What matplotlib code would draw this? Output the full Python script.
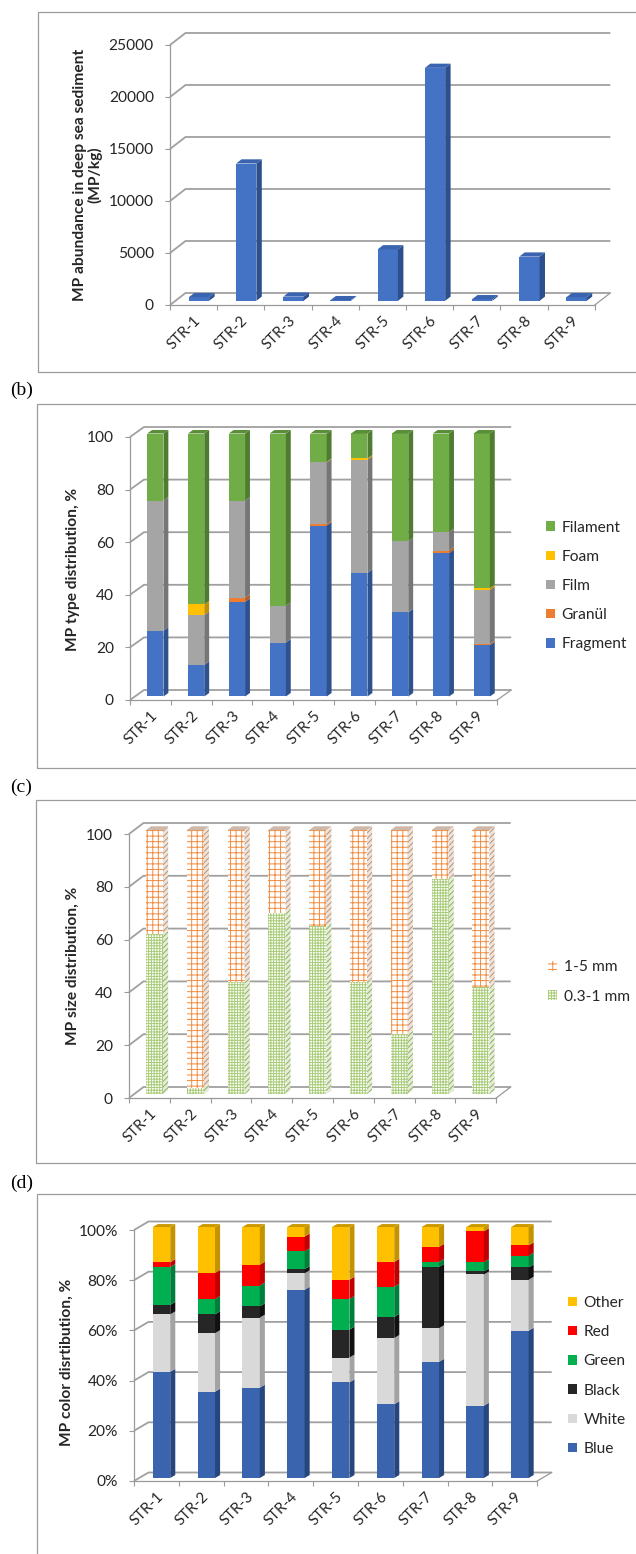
import matplotlib
matplotlib.use("Agg")
import matplotlib.pyplot as plt
from matplotlib.patches import Polygon, Rectangle, Patch
import numpy as np

plt.rcParams['font.family'] = ['Lato', 'DejaVu Sans']

stations = ["STR-1", "STR-2", "STR-3", "STR-4", "STR-5", "STR-6", "STR-7", "STR-8", "STR-9"]

# (a) abundance, MP/kg
abundance = [350, 13200, 400, 60, 4950, 22400, 150, 4250, 350]

# (b) type distribution, %
fragment = [25, 12, 36, 20.5, 65, 47, 32, 54.5, 19.5]
granul = [0, 0, 1.5, 0, 0.5, 0, 0, 1, 0.5]
film = [49.5, 19, 37, 14, 23.5, 43, 27, 7, 20.5]
foam = [0, 4, 0, 0, 0.2, 0.5, 0, 0, 0.7]
filament = [25.5, 65, 25.5, 65.5, 10.8, 9.5, 41, 37.5, 58.8]

# (c) size distribution, %
size_small = [60.5, 2.5, 42.5, 68.7, 63.8, 42.5, 22.6, 81.6, 40.4]
size_large = [39.5, 97.5, 57.5, 31.3, 36.2, 57.5, 77.4, 18.4, 59.6]

# (d) colour distribution, %
c_blue = [42.3, 34.4, 36, 75, 38.1, 29.4, 46.3, 28.8, 58.7]
c_white = [22.9, 23.3, 27.9, 6.6, 9.9, 26.4, 13.4, 52.3, 20.3]
c_black = [3.8, 7.5, 4.5, 1.6, 11.1, 8.4, 24.4, 1.2, 4.9]
c_green = [15.1, 6.1, 8.3, 7.1, 12.2, 12, 2, 3.7, 4.7]
c_red = [1.9, 10.4, 8.3, 5.9, 7.7, 9.9, 6, 12.3, 4.1]
c_other = [14, 18.3, 15, 3.8, 21, 13.9, 7.9, 1.7, 7.3]

W, H = 636, 1554
GRID = "#a0a0a0"
AXIS = "#9a9a9a"
TXT = "#262626"
FS = 11.2

fig = plt.figure(figsize=(W / 100, H / 100), dpi=100)


def frame(left, top, bottom):
    fig.add_artist(Rectangle((left / W, 1 - bottom / H), (W + 20 - left) / W, (bottom - top) / H,
                             transform=fig.transFigure, fill=False, ec="#9c9c9c", lw=0.9))


def make_axes(fl, cat, y0, ytop, vmax, ox, oy, ticks, ticklabels):
    wpx = 9 * cat + ox + 2
    hpx = (y0 - ytop) + oy + 2
    ax = fig.add_axes([fl / W, (H - y0) / H, wpx / W, hpx / H])
    DX = ox / cat
    DY = oy * vmax / (y0 - ytop)
    ax.set_xlim(-0.5, -0.5 + wpx / cat)
    ax.set_ylim(0, hpx * vmax / (y0 - ytop))
    ax.patch.set_visible(False)
    for s in ["top", "right"]:
        ax.spines[s].set_visible(False)
    ax.spines["left"].set_bounds(0, vmax)
    ax.spines["bottom"].set_bounds(-0.5, 8.5)
    for s in ["left", "bottom"]:
        ax.spines[s].set_color(AXIS)
        ax.spines[s].set_linewidth(0.9)
    # walls and floor
    for v in ticks:
        ax.plot([-0.5, -0.5 + DX, 8.5 + DX], [v, v + DY, v + DY], color=GRID, lw=1.3, zorder=1,
                solid_capstyle="butt", clip_on=False)
    ax.plot([8.5, 8.5 + DX], [0, DY], color=AXIS, lw=0.9, clip_on=False)
    ax.set_yticks(ticks)
    ax.set_yticklabels(ticklabels)
    ax.tick_params(axis="y", direction="out", length=3.6, width=0.8, color=AXIS, pad=8,
                   labelsize=FS, labelcolor=TXT)
    ax.set_xticks(range(9))
    ax.set_xticklabels(stations, rotation=45, ha="right", va="top", rotation_mode="anchor")
    ax.set_xticks(np.arange(-0.5, 9, 1), minor=True)
    ax.tick_params(axis="x", which="major", length=0, pad=6, labelsize=FS - 0.4, labelcolor=TXT)
    ax.tick_params(axis="x", which="minor", direction="out", length=3.6, width=0.8, color=AXIS)
    return ax, DX, DY


def bars3d(ax, DX, DY, bottoms, heights, face, side, top=None, w=0.42, d1=0.35, d2=0.35, **kw):
    x = np.arange(9) + d1 * DX
    b = np.array(bottoms, dtype=float) + d1 * DY
    h = np.array(heights, dtype=float)
    ax.bar(x, h, w, bottom=b, color=face, lw=0, zorder=3, **kw)
    for xi, bi, hi in zip(x, b, h):
        if hi <= 0:
            continue
        xr = xi + w / 2
        xl = xi - w / 2
        yt = bi + hi
        ax.add_patch(Polygon([(xr, bi), (xr, yt), (xr + d2 * DX, yt + d2 * DY), (xr + d2 * DX, bi + d2 * DY)],
                             closed=True, fc=side[0] if isinstance(side, tuple) else side,
                             ec=side[1] if isinstance(side, tuple) else "none",
                             hatch=side[2] if isinstance(side, tuple) else None, lw=0, zorder=3))
        if top is not None:
            ax.add_patch(Polygon([(xl, yt), (xr, yt), (xr + d2 * DX, yt + d2 * DY), (xl + d2 * DX, yt + d2 * DY)],
                                 closed=True, fc=top, lw=0, zorder=3))


def legend(ax, handles, labels, x, y, spacing=0.98):
    ax.legend(handles, labels, loc="center left", bbox_to_anchor=(x / W, 1 - y / H),
              bbox_transform=fig.transFigure, frameon=False, borderpad=0, borderaxespad=0,
              handlelength=0.55, handleheight=0.55, handletextpad=0.45, labelspacing=spacing,
              fontsize=FS, labelcolor=TXT)


def ylabel(text, x, y):
    fig.text(x / W, 1 - y / H, text, rotation=90, ha="center", va="center", fontweight="bold",
             fontsize=FS, color=TXT, linespacing=1.0)


def letter(text, y):
    fig.text(10 / W, 1 - y / H, text, family="Liberation Serif", fontsize=14, va="center", color="black")


zeros = [0] * 9

# ---------------- (a)
frame(38, 12, 372)
ax, DX, DY = make_axes(170, 47.2, 305, 45, 25000, 15.5, 12, [0, 5000, 10000, 15000, 20000, 25000],
                       ["0", "5000", "10000", "15000", "20000", "25000"])
bars3d(ax, DX, DY, zeros, abundance, "#4472c4", "#2d4f8e", top="#3a64b0", w=0.43)
ylabel("MP abundance in deep sea sediment\n(MP/kg)", 88, 175)

# ---------------- (b)
letter("(b)", 390)
frame(36.5, 404, 768)
ticks = [0, 20, 40, 60, 80, 100]
ax, DX, DY = make_axes(130, 40.8, 700, 437, 100, 14, 10, ticks, [str(t) for t in ticks])
type_series = [("Fragment", fragment, "#4472c4", "#2f528f"),
               ("Granül", granul, "#ed7d31", "#b85c1f"),
               ("Film", film, "#a5a5a5", "#767676"),
               ("Foam", foam, "#ffc000", "#c09000"),
               ("Filament", filament, "#70ad47", "#4e7d31")]
base = np.zeros(9)
for k, (name, vals, fc, sc) in enumerate(type_series):
    bars3d(ax, DX, DY, base, vals, fc, sc, top="#5a8f38" if k == len(type_series) - 1 else None, w=0.4)
    base = base + np.array(vals)
hs = [Patch(fc=s[2], lw=0) for s in type_series][::-1]
legend(ax, hs, [s[0] for s in type_series][::-1], 546, 586)
ylabel("MP type distribution, %", 73, 569)

# ---------------- (c)
letter("(c)", 787)
frame(36, 800, 1163)
ax, DX, DY = make_axes(129, 40.8, 1098, 834, 100, 14.5, 11, ticks, [str(t) for t in ticks])
plt.rcParams["hatch.linewidth"] = 0.7
bars3d(ax, DX, DY, zeros, size_small, "white", ("#e4ecd8", "#8fb05a", "//////"), w=0.42,
       edgecolor="#a8cc78", hatch="++++++")
bars3d(ax, DX, DY, size_small, size_large, "white", ("#efe2d8", "#b49580", "//////"), top="#cdb8aa",
       w=0.42, edgecolor="#f28c40", hatch="+++")
hs = [Patch(fc="white", ec="#f28c40", hatch="+++", lw=0), Patch(fc="white", ec="#a8cc78", hatch="++++++", lw=0)]
legend(ax, hs, ["1-5 mm", "0.3-1 mm"], 548, 982)
ylabel("MP size distribution, %", 73, 966)

# ---------------- (d)
letter("(d)", 1183)
frame(37, 1194, 1600)
ax, DX, DY = make_axes(134, 44.8, 1481, 1230, 100, 14.5, 8.5, ticks, [f"{t}%" for t in ticks])
color_series = [("Blue", c_blue, "#3a64ad", "#28467e"),
                ("White", c_white, "#d9d9d9", "#a3a3a3"),
                ("Black", c_black, "#262626", "#111111"),
                ("Green", c_green, "#00b050", "#007f3a"),
                ("Red", c_red, "#ff0000", "#c00000"),
                ("Other", c_other, "#ffc000", "#c49400")]
base = np.zeros(9)
for k, (name, vals, fc, sc) in enumerate(color_series):
    bars3d(ax, DX, DY, base, vals, fc, sc, top="#cc9a00" if k == len(color_series) - 1 else None, w=0.39)
    base = base + np.array(vals)
hs = [Patch(fc=s[2], lw=0) for s in color_series][::-1]
legend(ax, hs, [s[0] for s in color_series][::-1], 568, 1376)
ylabel("MP color disrtibution, %", 67, 1362)

fig.savefig("out.png", dpi=100)
